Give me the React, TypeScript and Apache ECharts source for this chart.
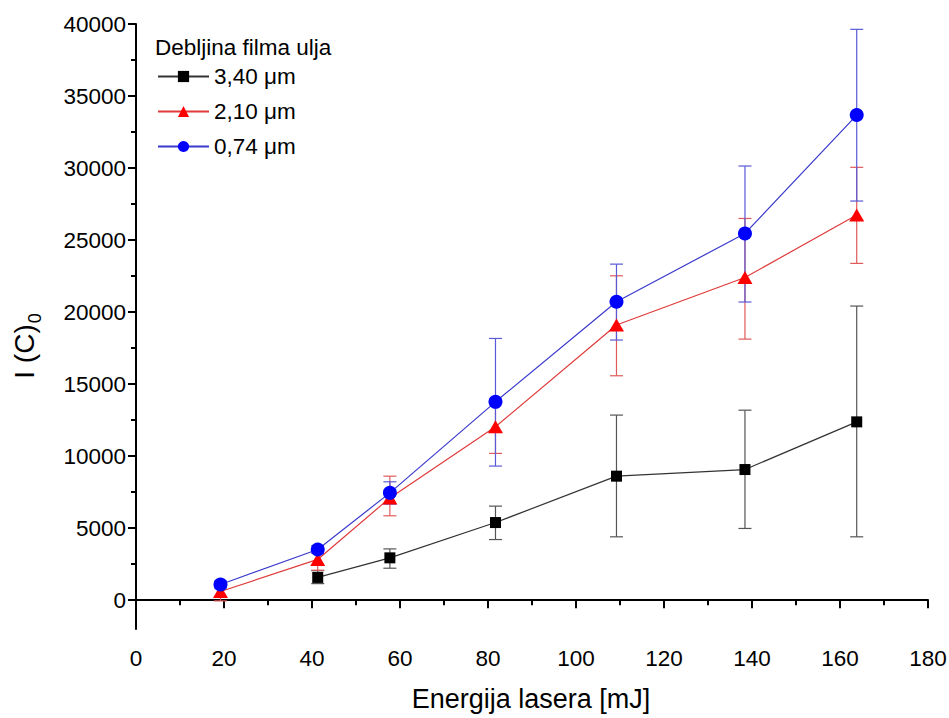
import React, { useEffect, useRef } from 'react';
import * as echarts from 'echarts';

// Laser energy [mJ]
const energyAll = [19.2, 41.3, 57.7, 81.7, 109.2, 138.4, 163.8];
const energyBlack = [41.3, 57.7, 81.7, 109.2, 138.4, 163.8];

// 3,40 µm
const blackValues = [1580, 2940, 5390, 8610, 9070, 12380];
const blackLow = [1150, 2220, 4210, 4400, 4980, 4400];
const blackHigh = [2050, 3560, 6530, 12850, 13190, 20420];

// 2,10 µm
const redValues = [600, 2830, 7100, 12040, 19100, 22400, 26740];
const redLow = [-50, 2080, 5860, 10190, 15580, 18125, 23380];
const redHigh = [1000, 3580, 8610, 13850, 22520, 26500, 30050];

// 0,74 µm
const blueValues = [1090, 3520, 7450, 13770, 20720, 25460, 33680];
const blueLow = [850, 3250, 6670, 9310, 18060, 20700, 27710];
const blueHigh = [1330, 3790, 8220, 18170, 23330, 30140, 39630];

const seriesNames = ['3,40 μm', '2,10 μm', '0,74 μm'];
const legendTitle = 'Debljina filma ulja';
const xTitle = 'Energija lasera [mJ]';
const yTitleMain = 'I (C)';
const yTitleSub = '0';

const yMajorTicks = [0, 5000, 10000, 15000, 20000, 25000, 30000, 35000, 40000];
const yMinorTicks = [2500, 7500, 12500, 17500, 22500, 27500, 32500, 37500];

const FONT = '"Liberation Sans", Arial, Helvetica, sans-serif';

function errorBarSeries(xs: number[], lows: number[], highs: number[], color: string) {
  return {
    type: 'custom',
    silent: true,
    z: 1,
    data: xs.map((x, i) => [x, lows[i], highs[i]]),
    encode: { x: 0, y: [1, 2] },
    renderItem: (params: any, api: any) => {
      const x = api.value(0);
      const lo = api.coord([x, api.value(1)]);
      const hi = api.coord([x, api.value(2)]);
      const hw = 6.5;
      const style = { stroke: color, lineWidth: 1.2 };
      return {
        type: 'group',
        children: [
          { type: 'line', shape: { x1: lo[0], y1: lo[1], x2: hi[0], y2: hi[1] }, style },
          { type: 'line', shape: { x1: lo[0] - hw, y1: lo[1], x2: lo[0] + hw, y2: lo[1] }, style },
          { type: 'line', shape: { x1: hi[0] - hw, y1: hi[1], x2: hi[0] + hw, y2: hi[1] }, style },
        ],
      };
    },
  };
}

export default function App() {
  const ref = useRef<HTMLDivElement>(null);
  useEffect(() => {
    if (!ref.current) return;
    const chart = echarts.init(ref.current, undefined, { renderer: 'svg' });
    const axisLineStyle = { color: '#000', width: 2 };
    chart.setOption({
      animation: false,
      backgroundColor: '#fff',
      textStyle: { fontFamily: FONT },
      title: {
        text: legendTitle,
        left: 150,
        top: 31,
        textStyle: { fontSize: 22.5, fontWeight: 'normal', color: '#000', fontFamily: FONT },
      },
      legend: {
        orient: 'vertical',
        left: 152,
        top: 60,
        itemWidth: 51,
        itemHeight: 14,
        itemGap: 12,
        textStyle: { fontSize: 22.5, color: '#000', fontFamily: FONT },
        data: seriesNames,
      },
      grid: { left: 136, right: 21, top: 24, bottom: 89, containLabel: false, outerBoundsMode: 'none' },
      xAxis: {
        type: 'value',
        min: 0,
        max: 180,
        interval: 20,
        axisLine: { lineStyle: axisLineStyle },
        axisTick: { length: 8, lineStyle: { color: '#000', width: 2 } },
        minorTick: { show: true, splitNumber: 2, length: 5, lineStyle: { color: '#000', width: 2 } },
        splitLine: { show: false },
        axisLabel: { fontSize: 22.5, color: '#000', margin: 18, fontFamily: FONT },
      },
      yAxis: [
        {
          type: 'value',
          min: -2000,
          max: 40000,
          axisLine: { show: true, lineStyle: axisLineStyle },
          axisTick: { show: true, length: 8, customValues: yMajorTicks, lineStyle: { color: '#000', width: 2 } },
          axisLabel: {
            fontSize: 22.5,
            color: '#000',
            margin: 10,
            customValues: yMajorTicks,
            fontFamily: FONT,
            formatter: (v: number) => String(v),
          },
          splitLine: { show: false },
        },
        {
          type: 'value',
          min: -2000,
          max: 40000,
          position: 'left',
          offset: 0,
          axisLine: { show: false },
          axisTick: { show: true, length: 5, customValues: yMinorTicks, lineStyle: { color: '#000', width: 2 } },
          axisLabel: { show: false },
          splitLine: { show: false },
        },
      ],
      graphic: [
        {
          type: 'text',
          x: 531,
          y: 699,
          style: {
            text: xTitle,
            fontSize: 27,
            fontFamily: FONT,
            fill: '#000',
            align: 'center',
            verticalAlign: 'middle',
          },
        },
        {
          type: 'text',
          x: 26,
          y: 346,
          rotation: Math.PI / 2,
          style: {
            text: '{a|' + yTitleMain + '}{b|' + yTitleSub + '}',
            fill: '#000',
            align: 'center',
            verticalAlign: 'middle',
            rich: {
              a: { fontSize: 28, fontFamily: FONT, fill: '#000', verticalAlign: 'top', lineHeight: 31 },
              b: { fontSize: 18, fontFamily: FONT, fill: '#000', verticalAlign: 'top', padding: [15, 0, 0, 1], lineHeight: 20 },
            },
          },
        },
      ],
      series: [
        errorBarSeries(energyBlack, blackLow, blackHigh, '#555555'),
        errorBarSeries(energyAll, redLow, redHigh, '#e05a5a'),
        errorBarSeries(energyAll, blueLow, blueHigh, '#5a5ad8'),
        {
          name: seriesNames[0],
          type: 'line',
          z: 3,
          data: energyBlack.map((x, i) => [x, blackValues[i]]),
          symbol: 'rect',
          symbolSize: 11,
          itemStyle: { color: '#000' },
          lineStyle: { color: '#333', width: 1.2 },
        },
        {
          name: seriesNames[1],
          type: 'line',
          z: 3,
          data: energyAll.map((x, i) => [x, redValues[i]]),
          symbol: 'triangle',
          symbolSize: [15, 13],
          itemStyle: { color: '#ff0000' },
          lineStyle: { color: '#e03a3a', width: 1.2 },
        },
        {
          name: seriesNames[2],
          type: 'line',
          z: 3,
          data: energyAll.map((x, i) => [x, blueValues[i]]),
          symbol: 'circle',
          symbolSize: 14,
          itemStyle: { color: '#0000ff' },
          lineStyle: { color: '#3a3acc', width: 1.2 },
        },
      ],
    });
    return () => chart.dispose();
  }, []);
  return (
    <div
      ref={ref}
      style={{ position: 'absolute', left: 0, top: 0, width: 949, height: 718, background: '#fff' }}
    />
  );
}
